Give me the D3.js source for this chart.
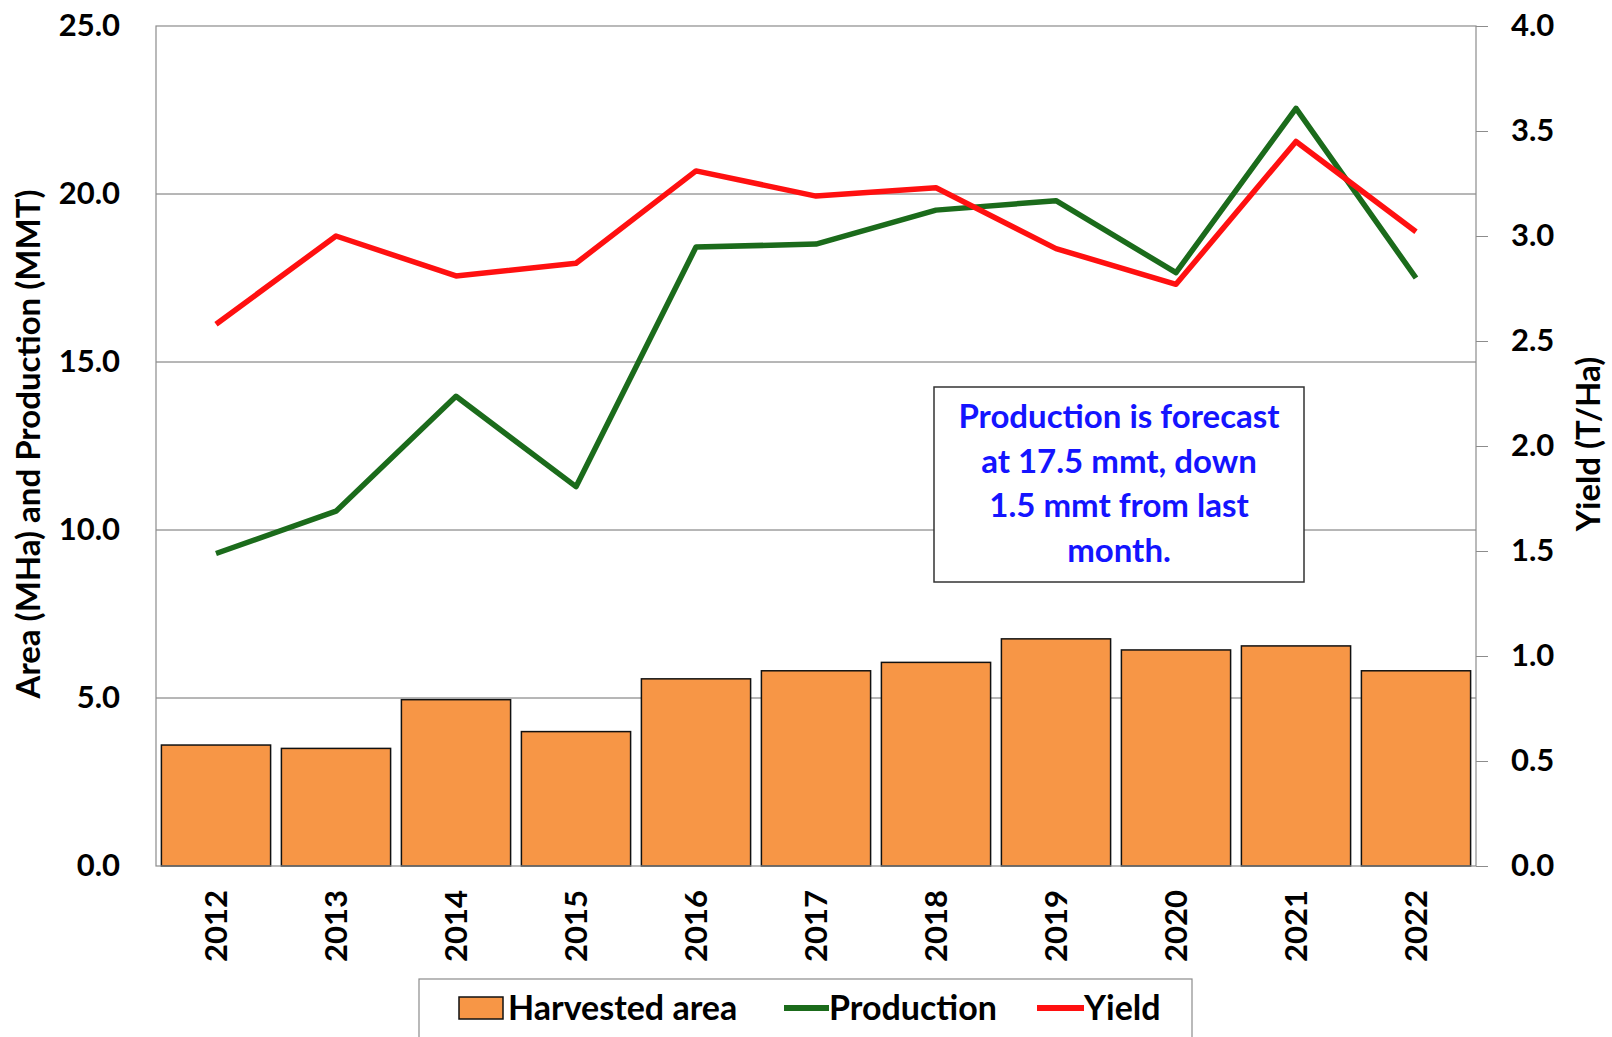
<!DOCTYPE html>
<html>
<head>
<meta charset="utf-8">
<script src="https://cdn.jsdelivr.net/npm/d3@7"></script>
<style>
  html, body { margin: 0; padding: 0; background: #fff; }
  svg { display: block; font-family: Lato, "Open Sans", sans-serif; font-weight: 700; }
</style>
</head>
<body>
<svg id="chart" width="1612" height="1037"></svg>
<script>
// ── Data ─────────────────────────────────────────────────────────────────────

const years = ["2012", "2013", "2014", "2015", "2016", "2017", "2018", "2019", "2020", "2021", "2022"];
const harvestedArea = [3.6, 3.5, 4.95, 4.0, 5.57, 5.81, 6.06, 6.76, 6.43, 6.55, 5.81];
const production = [9.3, 10.56, 13.98, 11.29, 18.42, 18.51, 19.52, 19.8, 17.66, 22.55, 17.5];
const yieldTHa = [2.58, 3.0, 2.81, 2.87, 3.31, 3.19, 3.23, 2.94, 2.77, 3.45, 3.02];

const leftTicks = [0, 5, 10, 15, 20, 25];
const rightTicks = [0, 0.5, 1, 1.5, 2, 2.5, 3, 3.5, 4];
const noteLines = ["Production is forecast", "at 17.5 mmt, down", "1.5 mmt from last", "month."];

// ── Layout ───────────────────────────────────────────────────────────────────

const plot = { left: 156, right: 1476, top: 26, bottom: 866 };
const svg = d3.select("#chart");

const x = d3.scaleBand().domain(years).range([plot.left, plot.right]).paddingInner(0.09).paddingOuter(0.045);
const yLeft = d3.scaleLinear().domain([0, 25]).range([plot.bottom, plot.top]);
const yRight = d3.scaleLinear().domain([0, 4]).range([plot.bottom, plot.top]);

const GRID = "#8c8c8c";
const ORANGE = "#F79646";
const GREEN = "#1b6b1b";
const RED = "#ff1010";
const TICK_FONT = 31;

// gridlines
svg.append("g")
  .selectAll("line")
  .data(leftTicks.filter((t) => t > 0 && t < 25))
  .join("line")
  .attr("x1", plot.left).attr("x2", plot.right)
  .attr("y1", (d) => yLeft(d)).attr("y2", (d) => yLeft(d))
  .attr("stroke", "#6e6e6e").attr("stroke-width", 1);

// bars
svg.append("g")
  .selectAll("rect")
  .data(harvestedArea)
  .join("rect")
  .attr("x", (d, i) => x(years[i]))
  .attr("y", (d) => yLeft(d))
  .attr("width", x.bandwidth())
  .attr("height", (d) => yLeft(0) - yLeft(d))
  .attr("fill", ORANGE)
  .attr("stroke", "#111").attr("stroke-width", 1.5);

// frame
svg.append("rect")
  .attr("x", plot.left).attr("y", plot.top)
  .attr("width", plot.right - plot.left).attr("height", plot.bottom - plot.top)
  .attr("fill", "none").attr("stroke", GRID).attr("stroke-width", 1.2);

// lines
const cx = (i) => x(years[i]) + x.bandwidth() / 2;
const prodLine = d3.line().x((d, i) => cx(i)).y((d) => yLeft(d));
const yieldLine = d3.line().x((d, i) => cx(i)).y((d) => yRight(d));

svg.append("path").datum(production)
  .attr("d", prodLine).attr("fill", "none")
  .attr("stroke", GREEN).attr("stroke-width", 5.5).attr("stroke-linejoin", "round");
svg.append("path").datum(yieldTHa)
  .attr("d", yieldLine).attr("fill", "none")
  .attr("stroke", RED).attr("stroke-width", 5.5).attr("stroke-linejoin", "round");

// left axis (labels only)
const leftAxis = d3.axisLeft(yLeft).tickValues(leftTicks).tickFormat(d3.format(".1f")).tickSize(0).tickPadding(36);
const gL = svg.append("g").attr("transform", `translate(${plot.left},0)`).call(leftAxis);
gL.select(".domain").remove();
gL.selectAll("text").attr("font-size", TICK_FONT).attr("fill", "#000").attr("font-family", "Lato").attr("font-weight", 700);

// right axis with outward ticks
const rightAxis = d3.axisRight(yRight).tickValues(rightTicks).tickFormat(d3.format(".1f")).tickSize(12).tickPadding(23);
const gR = svg.append("g").attr("transform", `translate(${plot.right},0)`).call(rightAxis);
gR.select(".domain").remove();
gR.selectAll("line").attr("stroke", GRID);
gR.selectAll("text").attr("font-size", TICK_FONT).attr("fill", "#000").attr("font-family", "Lato").attr("font-weight", 700);

// x axis labels (rotated)
svg.append("g")
  .selectAll("text")
  .data(years)
  .join("text")
  .attr("transform", (d) => `translate(${x(d) + x.bandwidth() / 2 + 11},${plot.bottom + 24}) rotate(-90)`)
  .attr("text-anchor", "end")
  .attr("font-size", TICK_FONT)
  .text((d) => d);

// axis titles
svg.append("text")
  .attr("transform", `translate(40,444) rotate(-90)`)
  .attr("text-anchor", "middle").attr("font-size", 33)
  .text("Area (MHa) and Production (MMT)");
svg.append("text")
  .attr("transform", `translate(1600,444) rotate(-90)`)
  .attr("text-anchor", "middle").attr("font-size", 33)
  .text("Yield (T/Ha)");

// annotation
const note = svg.append("g");
note.append("rect")
  .attr("x", 934).attr("y", 387).attr("width", 370).attr("height", 195)
  .attr("fill", "#fff").attr("stroke", "#333").attr("stroke-width", 1.5);
note.selectAll("text")
  .data(noteLines)
  .join("text")
  .attr("x", 1119)
  .attr("y", (d, i) => 428 + i * 44.5)
  .attr("text-anchor", "middle")
  .attr("font-size", 33)
  .attr("fill", "#1414ff")
  .text((d) => d);

// legend
const legend = svg.append("g");
legend.append("rect")
  .attr("x", 419).attr("y", 979).attr("width", 773).attr("height", 80)
  .attr("fill", "#fff").attr("stroke", GRID).attr("stroke-width", 1.2);
legend.append("rect")
  .attr("x", 459).attr("y", 997).attr("width", 44).attr("height", 22)
  .attr("fill", ORANGE).attr("stroke", "#111").attr("stroke-width", 1.5);
legend.append("text").attr("x", 508).attr("y", 1020).attr("font-size", 34).text("Harvested area");
legend.append("line").attr("x1", 784).attr("x2", 829).attr("y1", 1008).attr("y2", 1008)
  .attr("stroke", GREEN).attr("stroke-width", 6);
legend.append("text").attr("x", 829).attr("y", 1020).attr("font-size", 34).text("Production");
legend.append("line").attr("x1", 1037).attr("x2", 1084).attr("y1", 1008).attr("y2", 1008)
  .attr("stroke", RED).attr("stroke-width", 6);
legend.append("text").attr("x", 1084).attr("y", 1020).attr("font-size", 34).text("Yield");
</script>
</body>
</html>
